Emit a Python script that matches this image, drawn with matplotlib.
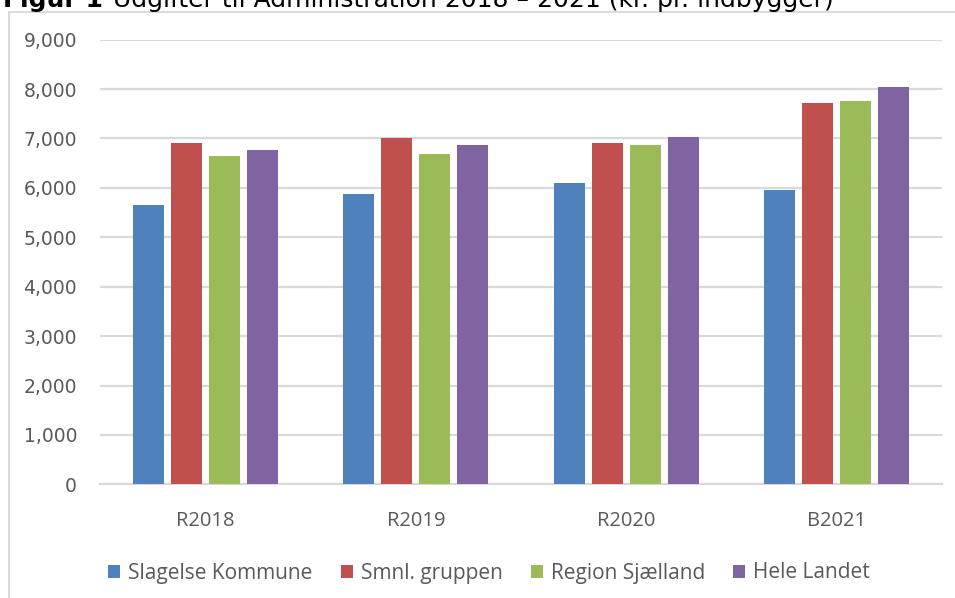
import numpy as np
import matplotlib.pyplot as plt
from matplotlib.patches import Rectangle
from matplotlib.ticker import FuncFormatter

years = ["R2018", "R2019", "R2020", "B2021"]
series = ["Slagelse Kommune", "Smnl. gruppen", "Region Sjælland", "Hele Landet"]
slagelse = [5650, 5880, 6100, 5960]
smnl = [6910, 7010, 6910, 7720]
region = [6650, 6690, 6870, 7760]
hele = [6770, 6870, 7030, 8040]
colors = ["#4F81BD", "#C0504D", "#9BBB59", "#8064A2"]

W, H = 955, 598
fig = plt.figure(figsize=(W / 100, H / 100), dpi=100)
ax = fig.add_axes([100 / W, 1 - 484.3 / H, 842 / W, (484.3 - 39.7) / H])

# chart frame (only left and top edges are in view)
fig.patches.append(Rectangle((8.5 / W, -0.1), 2, 1 - 12.5 / H + 0.1,
                             transform=fig.transFigure, fill=False,
                             edgecolor="#D9D9D9", linewidth=1.3))

x = np.arange(len(years))
step = 0.1805
width = 0.147
for i, (vals, name) in enumerate(zip([slagelse, smnl, region, hele], series)):
    ax.bar(x + (i - 1.5) * step, vals, width, color=colors[i], label=name, zorder=3)

ax.set_xlim(-0.5, 3.5)
ax.set_ylim(0, 9000)
ax.set_yticks(np.arange(0, 9001, 1000))
ax.yaxis.set_major_formatter(FuncFormatter(lambda v, p: f"{int(v):,}"))
ax.set_xticks(x)
ax.set_xticklabels(years, fontfamily="Open Sans", fontsize=14.5)
ax.grid(axis="y", color="#D9D9D9", linewidth=1.6, zorder=0)
for s in ["top", "right", "left"]:
    ax.spines[s].set_visible(False)
ax.spines["bottom"].set_color("#D9D9D9")
ax.spines["bottom"].set_linewidth(1.6)
ax.tick_params(axis="y", length=0, pad=16.5, labelsize=13.5, labelcolor="#595959")
ax.tick_params(axis="x", length=0, pad=19, labelcolor="#595959")
for lab in ax.get_yticklabels():
    lab.set_fontfamily("DejaVu Sans")

leg = fig.legend(loc="center", bbox_to_anchor=(489 / W, 1 - 573 / H), ncol=4,
                 frameon=False, prop={"family": "Open Sans", "size": 15},
                 handlelength=0.58, handleheight=0.58, handletextpad=0.38,
                 columnspacing=1.35)
for t in leg.get_texts():
    t.set_color("#595959")

# title sits partly above the picture edge, as in the reference
t1 = fig.text(3 / W, 1 - 7 / H, "Figur 1", fontsize=18, fontweight="bold",
              va="baseline", ha="left", family="DejaVu Sans")
r = fig.canvas.get_renderer()
x_end = t1.get_window_extent(r).x1
fig.text((x_end + 10) / W, 1 - 7 / H,
         "Udgifter til Administration 2018 – 2021 (kr. pr. indbygger)",
         fontsize=18, va="baseline", ha="left", family="DejaVu Sans")

fig.savefig("out.png", dpi=100)
